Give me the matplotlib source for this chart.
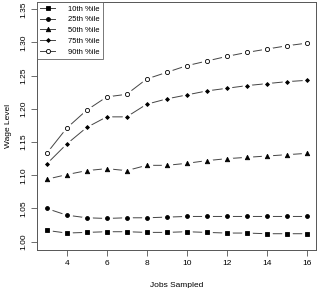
import matplotlib
matplotlib.use("Agg")
import matplotlib.pyplot as plt
import numpy as np

plt.rcParams['font.family'] = ['Liberation Sans', 'DejaVu Sans']

# Data
jobs = [3, 4, 5, 6, 7, 8, 9, 10, 11, 12, 13, 14, 15, 16]
p10 = [1.017, 1.013, 1.014, 1.015, 1.015, 1.014, 1.014, 1.015, 1.014, 1.013, 1.013, 1.012, 1.012, 1.012]
p25 = [1.050, 1.040, 1.036, 1.035, 1.036, 1.036, 1.037, 1.038, 1.038, 1.038, 1.038, 1.038, 1.038, 1.038]
p50 = [1.094, 1.101, 1.107, 1.110, 1.107, 1.115, 1.115, 1.118, 1.122, 1.125, 1.127, 1.129, 1.131, 1.133]
p75 = [1.117, 1.147, 1.172, 1.188, 1.188, 1.207, 1.215, 1.221, 1.227, 1.231, 1.235, 1.238, 1.241, 1.243]
p90 = [1.133, 1.171, 1.198, 1.218, 1.222, 1.245, 1.255, 1.265, 1.272, 1.279, 1.285, 1.290, 1.295, 1.299]

series = [p10, p25, p50, p75, p90]
labels = ["10th %ile", "25th %ile", "50th %ile", "75th %ile", "90th %ile"]
markers = ["s", "o", "^", "D", "o"]
msizes = [2.7, 2.8, 3.2, 2.0, 3.0]
fills = ["black", "black", "black", "black", "white"]

fig = plt.figure(figsize=(3.19, 2.88), dpi=100)
ax = fig.add_axes([0.115, 0.132, 0.8756, 0.862])

handles = []
for vals, lab, m, ms, fc in zip(series, labels, markers, msizes, fills):
    # R type="b": line with gaps around the points
    ax.plot(jobs, vals, color="#444444", lw=0.7, zorder=2)
    ax.plot(jobs, vals, ls="none", marker="o", ms=ms + 4, mfc="white",
            mec="white", zorder=3)
    ax.plot(jobs, vals, ls="none", marker=m, ms=ms, mfc=fc,
            mec="black", mew=0.6, zorder=4)
    handles.append(plt.Line2D([], [], color="#444444", lw=0.7, marker=m,
                              ms=ms, mfc=fc, mec="black", mew=0.6))

ax.set_xlim(2.5, 16.47)
ax.set_ylim(0.9875, 1.3614)
ax.set_xticks(np.arange(4, 17, 2))
ax.set_yticks(np.arange(1.00, 1.351, 0.05))
ax.set_yticklabels(["%.2f" % v for v in np.arange(1.00, 1.351, 0.05)],
                   rotation=90, va="center")
ax.tick_params(labelsize=6, length=4, width=0.6, color="#555555", pad=3)
for s in ax.spines.values():
    s.set_linewidth(0.7)
    s.set_color("#555555")

ax.set_xlabel("Jobs Sampled", fontsize=6, labelpad=11)
ax.set_ylabel("Wage Level", fontsize=6, labelpad=6)

leg = ax.legend(handles, labels, loc="upper left", fontsize=5.5, frameon=True,
                fancybox=False, borderaxespad=0, handlelength=2.0,
                handletextpad=1.6, labelspacing=0.45, borderpad=0.45)
leg.get_frame().set_edgecolor("#555555")
leg.get_frame().set_linewidth(0.7)

fig.savefig("out.png", dpi=100)
